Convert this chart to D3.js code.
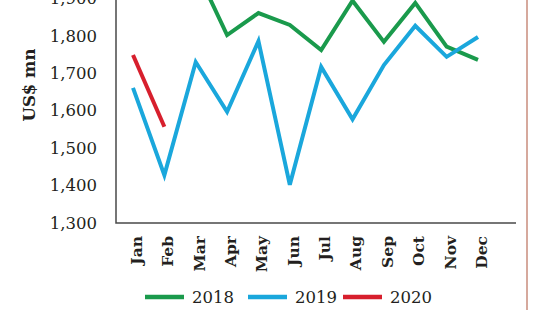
<!DOCTYPE html>
<html>
<head>
<meta charset="utf-8">
<script src="https://cdn.jsdelivr.net/npm/d3@7"></script>
<style>
  body { margin: 0; background: #fff; }
  svg { display: block; }
  .tick text { fill: #231f20; }
</style>
</head>
<body>
<div id="chart"></div>
<script>
// data
var months = ["Jan", "Feb", "Mar", "Apr", "May", "Jun", "Jul", "Aug", "Sep", "Oct", "Nov", "Dec"];
var values2018 = [2010, 1960, 1980, 1802, 1861, 1829, 1762, 1894, 1784, 1888, 1771, 1736];
var values2019 = [1661, 1428, 1730, 1597, 1786, 1402, 1717, 1577, 1722, 1827, 1744, 1797];
var values2020 = [1749, 1557];
var yTicks = [1300, 1400, 1500, 1600, 1700, 1800, 1900];

var series = [
  {name: "2018", color: "#1a9a4c", values: values2018},
  {name: "2019", color: "#1aa7dc", values: values2019},
  {name: "2020", color: "#d71f2d", values: values2020}
];

// the chart is cut at the top, so the plot starts above the window
var width = 550, height = 310;
var plot = {left: 116, right: 516, top: -39, bottom: 223};

var x = d3.scalePoint().domain(months).range([133, 478]);
var y = d3.scaleLinear().domain([1300, 2000]).range([plot.bottom, plot.top]);

var svg = d3.select("#chart").append("svg")
  .attr("width", width)
  .attr("height", height);

// y axis labels
var yAxis = svg.append("g")
  .attr("transform", "translate(" + plot.left + ",0)")
  .call(d3.axisLeft(y).tickValues(yTicks).tickSize(0).tickPadding(19)
    .tickFormat(d3.format(",")));
yAxis.select(".domain").remove();
yAxis.selectAll("text")
  .style("font-family", "'DejaVu Serif', serif")
  .style("font-size", "16.5px");

// month labels
var xAxis = svg.append("g")
  .attr("transform", "translate(0," + plot.bottom + ")")
  .call(d3.axisBottom(x).tickSize(0).tickPadding(0));
xAxis.select(".domain").remove();
xAxis.selectAll("text")
  .attr("transform", "rotate(-90)")
  .attr("x", -13)
  .attr("y", 3)
  .attr("dy", "0.35em")
  .style("text-anchor", "end")
  .style("font-family", "'DejaVu Serif', serif")
  .style("font-weight", "bold")
  .style("font-size", "15.5px");

// axis lines
svg.append("path")
  .attr("d", "M" + plot.left + "," + plot.top + "V" + plot.bottom + "H" + plot.right)
  .attr("fill", "none")
  .attr("stroke", "#4a4a4a")
  .attr("stroke-width", 1.5);

// y axis title
svg.append("text")
  .attr("transform", "translate(35,85) rotate(-90)")
  .attr("text-anchor", "middle")
  .style("font-family", "'DejaVu Serif', serif")
  .style("font-weight", "bold")
  .style("font-size", "16.5px")
  .attr("fill", "#231f20")
  .text("US$ mn");

// lines
var line = d3.line()
  .x(function(d, i) { return x(months[i]); })
  .y(function(d) { return y(d); });

svg.selectAll(".series")
  .data(series)
  .enter().append("path")
    .attr("class", "series")
    .attr("d", function(d) { return line(d.values); })
    .attr("fill", "none")
    .attr("stroke", function(d) { return d.color; })
    .attr("stroke-width", 4)
    .attr("stroke-linejoin", "miter");

// legend
var legendX = [145, 248, 343];
var legend = svg.selectAll(".legend")
  .data(series)
  .enter().append("g")
    .attr("class", "legend")
    .attr("transform", function(d, i) { return "translate(" + legendX[i] + ",297)"; });
legend.append("line")
  .attr("x1", 0).attr("x2", 39)
  .attr("stroke", function(d) { return d.color; })
  .attr("stroke-width", 4.5);
legend.append("text")
  .attr("x", 47)
  .attr("dy", "0.36em")
  .style("font-family", "'DejaVu Serif', serif")
  .style("font-size", "16.5px")
  .attr("fill", "#231f20")
  .text(function(d) { return d.name; });

// page frame line on the right
svg.append("line")
  .attr("x1", 527).attr("x2", 527)
  .attr("y1", 0).attr("y2", height)
  .attr("stroke", "#c98c7c")
  .attr("stroke-width", 1.5);
</script>
</body>
</html>
